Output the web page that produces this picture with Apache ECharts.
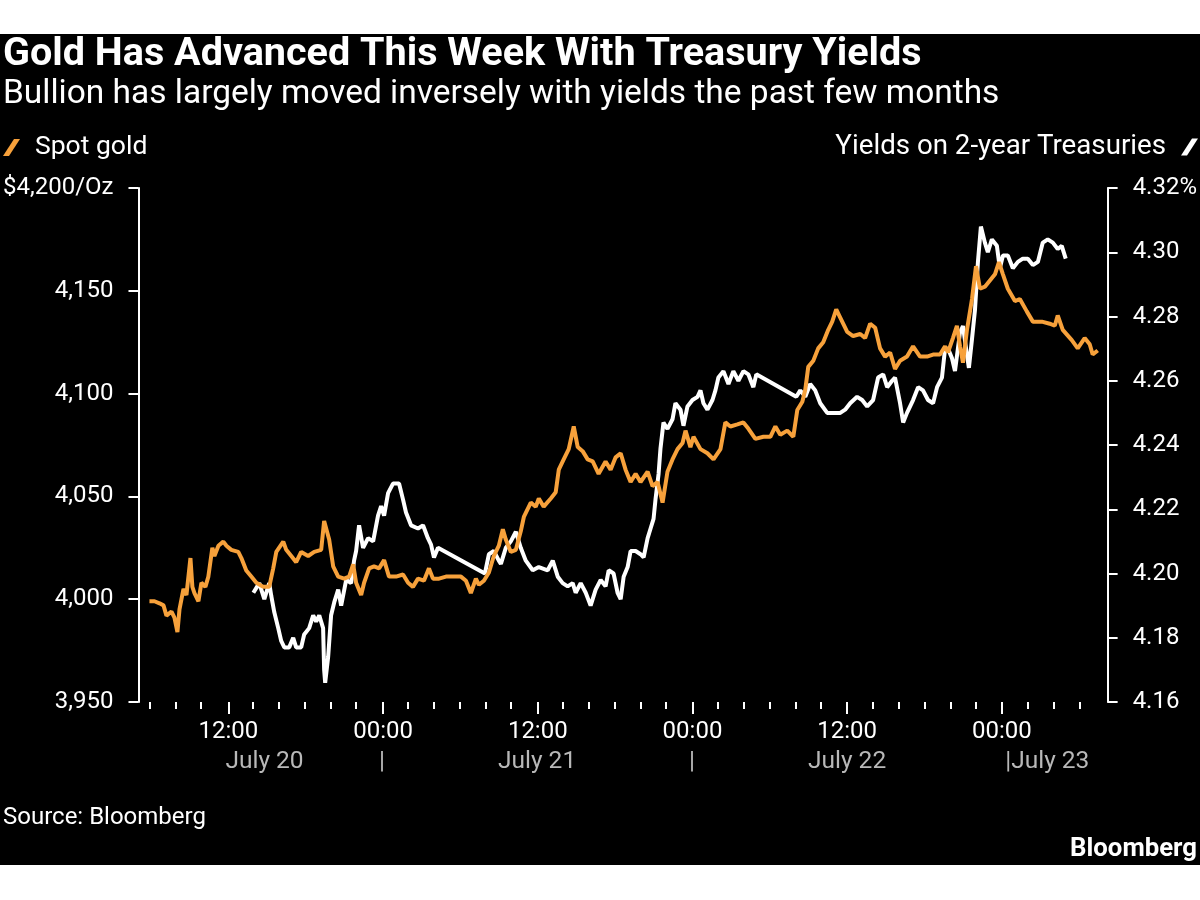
<!DOCTYPE html>
<html>
<head>
<meta charset="utf-8">
<title>Gold Has Advanced This Week With Treasury Yields</title>
<script src="https://cdn.jsdelivr.net/npm/echarts@6/dist/echarts.min.js"></script>
<style>
  html, body { margin: 0; padding: 0; background: #fff; }
  #chart { width: 1200px; height: 900px; }
</style>
</head>
<body>
<div id="chart"></div>
<script>
// hours counted from July 20 00:00
const goldHours = [5.88, 6.27, 6.66, 6.97, 7.20, 7.59, 7.82, 8.05, 8.21, 8.52, 8.75, 9.06, 9.21, 9.37, 9.68, 9.91,
  10.22, 10.45, 10.76, 10.92, 11.23, 11.61, 11.85, 12.23, 12.77, 13.01, 13.39, 13.78, 14.17, 14.71, 15.17, 15.48,
  15.72, 16.26, 16.49, 16.88, 17.26, 17.65, 18.19, 18.66, 19.20, 19.43, 19.82, 20.13, 20.52, 20.98, 21.37, 21.68,
  21.91, 22.30, 22.53, 22.92, 23.30, 23.69, 24.08, 24.46, 25.01, 25.55, 25.94, 26.32, 26.71, 27.17, 27.56, 27.87,
  28.34, 28.88, 29.50, 30.04, 30.43, 30.81, 31.20, 31.43, 31.82, 32.21, 32.59, 32.98, 33.29, 33.52, 33.91, 34.30,
  34.68, 34.92, 35.46, 35.84, 36.08, 36.46, 37.01, 37.39, 37.63, 38.01, 38.40, 38.79, 39.10, 39.48, 39.87, 40.26,
  40.72, 41.26, 41.65, 42.04, 42.43, 42.81, 43.20, 43.59, 43.97, 44.52, 44.90, 45.29, 45.68, 46.06, 46.45, 46.84,
  47.23, 47.46, 47.84, 48.08, 48.62, 49.16, 49.63, 50.17, 50.55, 50.94, 51.48, 51.95, 52.33, 52.88, 53.50, 54.04,
  54.43, 54.81, 55.35, 55.82, 56.13, 56.52, 56.75, 56.98, 57.37, 57.75, 58.14, 58.53, 58.84, 59.15, 59.46, 60.00,
  60.46, 61.01, 61.39, 61.78, 62.17, 62.55, 62.94, 63.33, 63.71, 64.10, 64.64, 65.11, 65.65, 66.19, 66.66, 67.20,
  67.59, 67.82, 68.20, 68.51, 68.75, 68.98, 69.29, 69.68, 69.99, 70.30, 70.68, 71.07, 71.46, 71.77, 72.08, 72.46,
  73.01, 73.39, 73.93, 74.40, 75.10, 75.71, 76.10, 76.33, 76.72, 77.42, 77.88, 78.42, 78.81, 79.04, 79.43]
const goldPrice = [3999, 3999, 3998, 3997, 3992, 3994, 3991, 3984, 3995, 4005, 4002, 4020, 4006, 4003, 3999, 4008,
  4006, 4011, 4025, 4021, 4026, 4028, 4026, 4024, 4023, 4020, 4014, 4011, 4008, 4006, 4006, 4015,
  4023, 4028, 4024, 4021, 4018, 4023, 4021, 4023, 4024, 4038, 4029, 4016, 4011, 4010, 4011, 4017,
  4008, 4002, 4008, 4015, 4016, 4015, 4019, 4011, 4011, 4012, 4008, 4006, 4010, 4009, 4015, 4010,
  4010, 4011, 4011, 4011, 4009, 4003, 4010, 4007, 4009, 4013, 4021, 4026, 4034, 4029, 4023, 4024,
  4033, 4040, 4047, 4045, 4049, 4045, 4049, 4052, 4063, 4068, 4073, 4084, 4074, 4072, 4068, 4067,
  4061, 4067, 4063, 4069, 4071, 4063, 4057, 4061, 4057, 4062, 4055, 4057, 4047, 4062, 4068, 4073,
  4076, 4082, 4074, 4079, 4073, 4071, 4068, 4073, 4086, 4084, 4085, 4086, 4083, 4078, 4079, 4079,
  4084, 4080, 4082, 4079, 4092, 4096, 4102, 4113, 4116, 4122, 4125, 4131, 4135, 4141, 4137, 4130,
  4128, 4129, 4127, 4134, 4132, 4122, 4118, 4120, 4112, 4116, 4118, 4123, 4118, 4118, 4119, 4119,
  4123, 4120, 4127, 4133, 4123, 4115, 4131, 4146, 4162, 4151, 4152, 4155, 4158, 4164, 4158, 4151,
  4145, 4146, 4140, 4135, 4135, 4134, 4133, 4138, 4131, 4126, 4122, 4127, 4124, 4119, 4121]

const yieldHours = [13.94, 14.40, 14.79, 15.17, 15.33, 15.56, 15.87, 16.10, 16.34, 16.72, 17.03, 17.26, 17.65, 17.88,
  18.27, 18.58, 18.81, 19.05, 19.35, 19.43, 19.51, 19.74, 19.97, 20.21, 20.52, 20.75, 21.14, 21.52, 21.75, 21.91,
  22.14, 22.45, 22.84, 23.23, 23.61, 23.85, 24.08, 24.39, 24.77, 25.24, 25.55, 25.78, 26.17, 26.71, 27.10, 27.48,
  27.72, 27.95, 28.26, 28.72, 31.90, 32.21, 32.59, 32.98, 33.14, 33.52, 33.91, 34.30, 34.68, 35.07, 35.61, 36.08,
  36.77, 37.16, 37.55, 37.93, 38.32, 38.71, 38.94, 39.33, 39.72, 40.10, 40.49, 40.88, 41.26, 41.50, 41.88, 42.19,
  42.43, 42.66, 42.97, 43.20, 43.59, 43.97, 44.21, 44.52, 44.75, 44.98, 45.13, 45.37, 45.52, 45.75, 46.06, 46.45,
  46.68, 47.07, 47.30, 47.61, 48.00, 48.39, 48.62, 48.85, 49.16, 49.55, 49.78, 50.01, 50.40, 50.79, 51.17, 51.56,
  51.95, 52.33, 52.72, 52.95, 56.05, 56.36, 56.75, 57.13, 57.52, 57.91, 58.45, 58.92, 59.46, 59.84, 60.23, 60.77,
  61.16, 61.55, 62.01, 62.40, 62.79, 63.10, 63.48, 63.71, 64.10, 64.34, 64.64, 65.11, 65.50, 65.88, 66.27, 66.66,
  66.97, 67.35, 67.59, 67.82, 68.13, 68.36, 68.75, 68.98, 69.29, 69.44, 69.68, 69.91, 70.14, 70.37, 70.68, 70.91,
  71.22, 71.61, 71.84, 72.08, 72.46, 72.85, 73.24, 73.62, 74.01, 74.40, 74.79, 75.17, 75.56, 75.95, 76.33, 76.64,
  76.95]
const yieldPct = [4.194, 4.197, 4.192, 4.197, 4.193, 4.188, 4.183, 4.179, 4.177, 4.177, 4.180, 4.177, 4.177, 4.181,
  4.183, 4.187, 4.185, 4.187, 4.183, 4.170, 4.166, 4.174, 4.187, 4.191, 4.195, 4.190, 4.198, 4.197, 4.204, 4.207,
  4.215, 4.208, 4.211, 4.210, 4.218, 4.221, 4.218, 4.225, 4.228, 4.228, 4.223, 4.219, 4.215, 4.214, 4.215, 4.211,
  4.209, 4.205, 4.208, 4.207, 4.200, 4.206, 4.207, 4.204, 4.203, 4.208, 4.210, 4.213, 4.208, 4.204, 4.201, 4.202,
  4.201, 4.204, 4.199, 4.197, 4.196, 4.197, 4.194, 4.197, 4.194, 4.190, 4.195, 4.198, 4.196, 4.201, 4.200, 4.194,
  4.192, 4.199, 4.202, 4.207, 4.207, 4.206, 4.205, 4.211, 4.214, 4.217, 4.223, 4.231, 4.239, 4.247, 4.245, 4.248,
  4.253, 4.251, 4.246, 4.252, 4.254, 4.255, 4.257, 4.253, 4.251, 4.254, 4.257, 4.261, 4.263, 4.259, 4.263, 4.260,
  4.263, 4.262, 4.258, 4.262, 4.255, 4.257, 4.255, 4.259, 4.257, 4.253, 4.250, 4.250, 4.250, 4.251, 4.253, 4.255,
  4.254, 4.252, 4.254, 4.261, 4.262, 4.258, 4.260, 4.261, 4.253, 4.247, 4.250, 4.254, 4.258, 4.257, 4.254, 4.253,
  4.258, 4.261, 4.270, 4.270, 4.267, 4.263, 4.275, 4.277, 4.268, 4.264, 4.273, 4.282, 4.297, 4.308, 4.303, 4.300,
  4.304, 4.302, 4.295, 4.299, 4.299, 4.295, 4.297, 4.298, 4.298, 4.296, 4.297, 4.303, 4.304, 4.303, 4.301, 4.302,
  4.298]

// x axis ticks and labels
const majorTicks = [12, 24, 36, 48, 60, 72]
const timeLabels = ['12:00', '00:00', '12:00', '00:00', '12:00', '00:00']
const minorTicks = [6, 8, 10, 14, 16, 18, 20, 22, 26, 28, 30, 32, 34, 38, 40, 42, 44, 46,
  50, 52, 54, 56, 58, 62, 64, 66, 68, 70, 74, 76, 78]
const dateHours = [14.9, 24, 36, 48, 60, 75.5]
const dateLabels = ['July 20', '|', 'July 21', '|', 'July 22', '|July 23']

const xMin = 5.03
const xMax = 80.2
const FONT = 'Roboto'
const GOLD = '#f7a13b'

const ctx = document.createElement('canvas').getContext('2d')
// font size that makes the text span the given width
const fitSize = (text, weight, width) => {
  ctx.font = weight + ' 100px ' + FONT
  return 100 * width / ctx.measureText(text).width
}
const pick = (list, labels, v) => {
  const i = list.findIndex(h => Math.abs(h - v) < 0.01)
  return i < 0 ? '' : labels[i]
}

const titleText = 'Gold Has Advanced This Week With Treasury Yields'
const subText = 'Bullion has largely moved inversely with yields the past few months'
const titleSize = fitSize(titleText, 'bold', 919)
const subSize = fitSize(subText, 'normal', 997)
const logoSize = fitSize('Bloomberg', 'bold', 127)

const slash = 'path://M0,17 L11,0 L17,0 L6,17 Z'
const labelFont = { color: '#fff', fontSize: 24, fontFamily: FONT }

const myChart = echarts.init(document.getElementById('chart'))
const option = {
  backgroundColor: '#000',
  animation: false,
  textStyle: { fontFamily: FONT },
  graphic: [
    { type: 'rect', shape: { x: 0, y: 0, width: 1200, height: 34 }, style: { fill: '#fff' } },
    { type: 'rect', shape: { x: 0, y: 865, width: 1200, height: 35 }, style: { fill: '#fff' } }
  ],
  title: [
    {
      text: titleText, left: 3, top: 55 - titleSize / 2, padding: 0,
      textStyle: { color: '#fff', fontFamily: FONT, fontWeight: 'bold', fontSize: titleSize }
    },
    {
      text: subText, left: 3, top: 95 - subSize / 2, padding: 0,
      textStyle: { color: '#fff', fontFamily: FONT, fontWeight: 'normal', fontSize: subSize }
    },
    {
      text: 'Source: Bloomberg', left: 3, top: 806, padding: 0,
      textStyle: { color: '#fff', fontFamily: FONT, fontWeight: 'normal', fontSize: 24 }
    },
    {
      text: 'Bloomberg', right: 3, top: 849 - logoSize / 2, padding: 0,
      textStyle: { color: '#fff', fontFamily: FONT, fontWeight: 'bold', fontSize: logoSize }
    }
  ],
  legend: [
    {
      data: ['Spot gold'], left: 3, top: 134, padding: 0, selectedMode: false,
      icon: slash, itemWidth: 17, itemHeight: 18,
      textStyle: { color: '#fff', fontSize: 26.5, fontFamily: FONT, padding: [0, 0, 0, 10] }
    },
    {
      data: ['Yields on 2-year Treasuries'], right: 2, top: 133, padding: 0, selectedMode: false,
      align: 'right', icon: slash, itemWidth: 17, itemHeight: 18,
      textStyle: { color: '#fff', fontSize: 27.7, fontFamily: FONT, padding: [0, 10, 0, 0] }
    }
  ],
  grid: [
    { left: 137, right: 92, top: 188, bottom: 198 },
    { left: 137, right: 92, top: 188, bottom: 198 }
  ],
  xAxis: [
    {
      type: 'value', gridIndex: 0, min: xMin, max: xMax,
      axisLine: { show: false },
      splitLine: { show: false },
      axisTick: { customValues: majorTicks, length: 12, lineStyle: { color: '#fff', width: 2 } },
      axisLabel: {
        ...labelFont, margin: 18, customValues: majorTicks,
        formatter: v => pick(majorTicks, timeLabels, v)
      }
    },
    {
      type: 'value', gridIndex: 1, min: xMin, max: xMax,
      axisLine: { show: false },
      splitLine: { show: false },
      axisTick: { customValues: minorTicks, length: 7, lineStyle: { color: '#fff', width: 2 } },
      axisLabel: {
        ...labelFont, fontSize: 24.5, color: '#b8b8b8', margin: 47, customValues: dateHours,
        formatter: v => pick(dateHours, dateLabels, v)
      }
    }
  ],
  yAxis: [
    {
      type: 'value', gridIndex: 0, position: 'left', min: 3950, max: 4200, interval: 50,
      axisLine: { show: true, lineStyle: { color: '#fff', width: 2 } },
      axisTick: { show: true, length: 10, lineStyle: { color: '#fff', width: 2 } },
      splitLine: { show: false },
      axisLabel: {
        ...labelFont, margin: 25,
        formatter: v => v === 4200 ? '$4,200/Oz' : v.toLocaleString('en-US')
      }
    },
    {
      type: 'value', gridIndex: 0, position: 'right', min: 4.16, max: 4.32, interval: 0.02,
      axisLine: { show: true, lineStyle: { color: '#fff', width: 2 } },
      axisTick: { show: true, length: 10, lineStyle: { color: '#fff', width: 2 } },
      splitLine: { show: false },
      axisLabel: {
        ...labelFont, margin: 25,
        formatter: v => v.toFixed(2) === '4.32' ? '4.32%' : v.toFixed(2)
      }
    },
    { type: 'value', gridIndex: 1, show: false }
  ],
  series: [
    {
      name: 'Yields on 2-year Treasuries',
      type: 'line',
      xAxisIndex: 0,
      yAxisIndex: 1,
      data: yieldHours.map((h, i) => [h, yieldPct[i]]),
      symbol: 'none',
      lineStyle: { color: '#fff', width: 4 },
      itemStyle: { color: '#fff' }
    },
    {
      name: 'Spot gold',
      type: 'line',
      xAxisIndex: 0,
      yAxisIndex: 0,
      data: goldHours.map((h, i) => [h, goldPrice[i]]),
      symbol: 'none',
      lineStyle: { color: GOLD, width: 4 },
      itemStyle: { color: GOLD }
    }
  ]
}
myChart.setOption(option)
</script>
</body>
</html>
